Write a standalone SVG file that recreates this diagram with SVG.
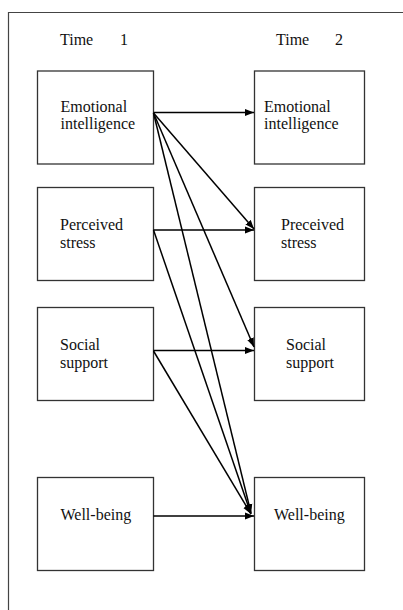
<svg xmlns="http://www.w3.org/2000/svg" width="403" height="610" viewBox="0 0 403 610">
<style>
.box{fill:#fff;stroke:#333;stroke-width:1.3}
.t{font-family:"Liberation Serif",serif;font-size:16px;fill:#111}
.c{stroke:#000;stroke-width:1.5;fill:none;marker-end:url(#ah)}
</style>
<defs>
<marker id="ah" markerUnits="userSpaceOnUse" markerWidth="10" markerHeight="8" refX="9" refY="4" orient="auto">
<path d="M0,0.5 L9,4 L0,7.5 Z" fill="#000"/>
</marker>
</defs>
<rect width="403" height="610" fill="#fff"/>
<path d="M8.5,620 V12.5 H410" fill="none" stroke="#444" stroke-width="1.2"/>
<g id="headers">
<text class="t" x="60" y="45">Time</text><text class="t" x="120" y="45">1</text>
<text class="t" x="276" y="45">Time</text><text class="t" x="335" y="45">2</text>
</g>
<g id="ei1"><rect class="box" x="37.5" y="71" width="116" height="93"/><text class="t" x="60.5" y="112">Emotional</text><text class="t" x="60.5" y="129">intelligence</text></g>
<g id="ps1"><rect class="box" x="37.5" y="187.5" width="116" height="93"/><text class="t" x="60" y="230">Perceived</text><text class="t" x="60" y="248">stress</text></g>
<g id="ss1"><rect class="box" x="37.5" y="307.5" width="116" height="93"/><text class="t" x="60" y="350">Social</text><text class="t" x="60" y="368">support</text></g>
<g id="wb1"><rect class="box" x="37.5" y="477.5" width="116" height="93"/><text class="t" x="60.5" y="520">Well-being</text></g>
<g id="ei2"><rect class="box" x="254.5" y="71" width="110" height="93"/><text class="t" x="264" y="112">Emotional</text><text class="t" x="264" y="129">intelligence</text></g>
<g id="ps2"><rect class="box" x="254.5" y="187.5" width="110" height="93"/><text class="t" x="281" y="230">Preceived</text><text class="t" x="281" y="248">stress</text></g>
<g id="ss2"><rect class="box" x="254.5" y="307.5" width="110" height="93"/><text class="t" x="286" y="350">Social</text><text class="t" x="286" y="368">support</text></g>
<g id="wb2"><rect class="box" x="254.5" y="477.5" width="110" height="93"/><text class="t" x="274" y="520">Well-being</text></g>
<g id="connectors">
<line class="c" x1="153.5" y1="112.5" x2="254" y2="112.5"/>
<line class="c" x1="153.5" y1="113" x2="254" y2="229"/>
<line class="c" x1="153.5" y1="113" x2="254" y2="347"/>
<line class="c" x1="153.5" y1="113" x2="251" y2="513"/>
<line class="c" x1="153.5" y1="230" x2="254" y2="230"/>
<line class="c" x1="153.5" y1="230" x2="251" y2="514"/>
<line class="c" x1="153.5" y1="350.5" x2="254" y2="350.5"/>
<line class="c" x1="153.5" y1="351" x2="251" y2="514"/>
<line class="c" x1="153.5" y1="516" x2="254" y2="516"/>
</g>
</svg>
